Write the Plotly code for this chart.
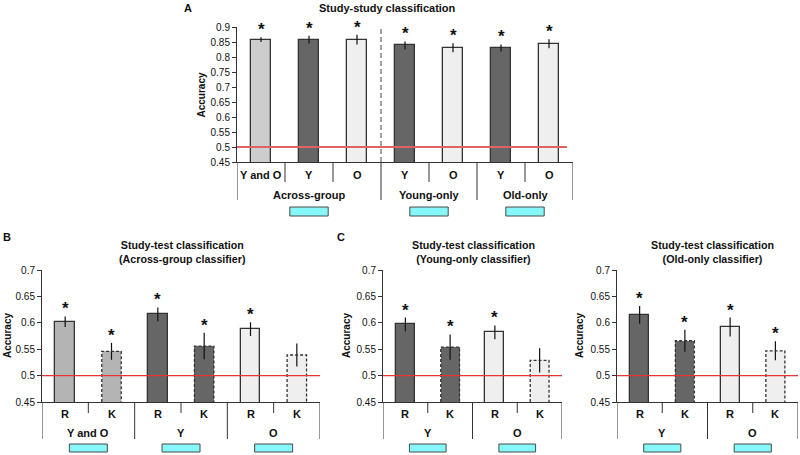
import plotly.graph_objects as go

W, H = 800, 455
FONT = "Arial, Liberation Sans, sans-serif"

# ---------------- data ----------------
A_labels = ["Y and O", "Y", "O", "Y", "O", "Y", "O"]
A_values = [0.858, 0.858, 0.858, 0.839, 0.831, 0.830, 0.844]
A_errors = [0.008, 0.013, 0.016, 0.013, 0.015, 0.012, 0.015]
A_sig = [True, True, True, True, True, True, True]
A_colors = ["#cdcdcd", "#666666", "#efefef", "#666666", "#efefef", "#666666", "#efefef"]
A_groups = [("Across-group", [0, 1, 2]), ("Young-only", [3, 4]), ("Old-only", [5, 6])]

B_labels = ["R", "K", "R", "K", "R", "K"]
B_values = [0.602, 0.546, 0.616, 0.556, 0.588, 0.539]
B_errors = [0.010, 0.016, 0.013, 0.025, 0.013, 0.022]
B_sig = [True, True, True, True, True, False]
B_colors = ["#b4b4b4", "#b4b4b4", "#666666", "#666666", "#efefef", "#efefef"]
B_groups = [("Y and O", [0, 1]), ("Y", [2, 3]), ("O", [4, 5])]

C1_labels = ["R", "K", "R", "K"]
C1_values = [0.597, 0.554, 0.582, 0.529]
C1_errors = [0.013, 0.024, 0.013, 0.023]
C1_sig = [True, True, True, False]
C1_colors = ["#666666", "#666666", "#efefef", "#efefef"]
C1_groups = [("Y", [0, 1]), ("O", [2, 3])]

C2_labels = ["R", "K", "R", "K"]
C2_values = [0.615, 0.566, 0.592, 0.547]
C2_errors = [0.017, 0.021, 0.018, 0.018]
C2_sig = [True, True, True, True]
C2_colors = ["#666666", "#666666", "#efefef", "#efefef"]
C2_groups = [("Y", [0, 1]), ("O", [2, 3])]

A_yticks = [0.45, 0.5, 0.55, 0.6, 0.65, 0.7, 0.75, 0.8, 0.85, 0.9]
A_yticktext = ["0.45", "0.5", "0.55", "0.6", "0.65", "0.7", "0.75", "0.8", "0.85", "0.9"]
BC_yticks = [0.45, 0.5, 0.55, 0.6, 0.65, 0.7]
BC_yticktext = ["0.45", "0.5", "0.55", "0.6", "0.65", "0.7"]
CHANCE = 0.5


def px(p):
    return p / W


def py(p):
    return 1 - p / H


fig = go.Figure()
shapes = []
annotations = []
LINE = "#333333"
BAR_W = 0.42


def ann(**kw):
    kw.setdefault("xanchor", "center")
    kw.setdefault("yanchor", "middle")
    kw.setdefault("showarrow", False)
    annotations.append(kw)


def panel(k, labels, values, errors, sig, colors, groups, yticks, yticktext,
          xpx, ypx, dashed_k, title, title_xy, ytitle_x, red_x1=1.0, red=("#e53535", 1.3),
          title_size=10.7, minor_bot=0, major_bot=0, label_y=0, group_y=0, box_y=(0, 0),
          box_half=0.4):
    xa = "x" if k == 1 else f"x{k}"
    ya = "y" if k == 1 else f"y{k}"
    n = len(labels)
    idx = list(range(n))
    lw = [0 if (dashed_k and lab == "K") else 1.3 for lab in labels]
    fig.add_trace(go.Bar(
        x=idx, y=values, width=BAR_W, xaxis=xa, yaxis=ya,
        marker=dict(color=colors, line=dict(color=LINE, width=lw)),
        error_y=dict(type="data", array=errors, color="#111", thickness=1.2, width=0),
        showlegend=False, hoverinfo="skip",
    ))
    # dashed outline for K bars
    if dashed_k:
        for i, lab in enumerate(labels):
            if lab == "K":
                fig.add_trace(go.Scatter(
                    x=[i - BAR_W / 2, i - BAR_W / 2, i + BAR_W / 2, i + BAR_W / 2],
                    y=[yticks[0], values[i], values[i], yticks[0]],
                    mode="lines", xaxis=xa, yaxis=ya,
                    line=dict(color=LINE, width=1.3, dash="3px,2px"),
                    showlegend=False, hoverinfo="skip",
                ))
    # asterisks
    for i in idx:
        if sig[i]:
            ann(x=i, y=values[i] + errors[i], xref=xa, yref=ya, text="<b>*</b>",
                yanchor="bottom", yshift=-4, font=dict(size=17, family=FONT, color="#111"))
    # chance line
    shapes.append(dict(type="line", xref=f"{xa} domain", yref=ya, x0=0, x1=red_x1,
                       y0=CHANCE, y1=CHANCE, line=dict(color=red[0], width=red[1])))
    # separators
    bounds = []
    for gname, members in groups:
        for j in members[:-1]:
            shapes.append(dict(type="line", xref=xa, yref="paper", x0=j + 0.5, x1=j + 0.5,
                               y0=py(ypx[1]), y1=py(minor_bot), line=dict(color=LINE, width=1)))
        bounds.append(members[0] - 0.5)
        cx = sum(members) / len(members)
        ann(x=cx, y=py(group_y), xref=xa, yref="paper", text=gname,
            font=dict(size=11, family=FONT, color="#111", weight="bold"))
        shapes.append(dict(type="rect", xref=xa, yref="paper", x0=cx - box_half, x1=cx + box_half,
                           y0=py(box_y[1]), y1=py(box_y[0]), fillcolor="#86f7f8",
                           line=dict(color="#4a4a4a", width=1)))
    bounds.append(n - 0.5)
    for b in bounds:
        shapes.append(dict(type="line", xref=xa, yref="paper", x0=b, x1=b,
                           y0=py(ypx[1]), y1=py(major_bot), line=dict(color=LINE, width=1)))
    # category labels
    for i in idx:
        ann(x=i, y=py(label_y), xref=xa, yref="paper", text=labels[i],
            font=dict(size=11, family=FONT, color="#111", weight="bold"))
    # titles
    ann(x=px(title_xy[0]), y=py(title_xy[1]), xref="paper", yref="paper", text=title, align="center",
        font=dict(size=title_size, family=FONT, color="#111", weight="bold"))
    ann(x=px(ytitle_x), y=py((ypx[0] + ypx[1]) / 2), xref="paper", yref="paper",
        text="Accuracy", textangle=-90,
        font=dict(size=10, family=FONT, color="#111", weight="bold"))
    xkey = "xaxis" if k == 1 else f"xaxis{k}"
    ykey = "yaxis" if k == 1 else f"yaxis{k}"
    fig.layout[xkey] = dict(domain=[px(xpx[0]), px(xpx[1])], range=[-0.5, n - 0.5], anchor=ya,
                            showticklabels=False, ticks="", showgrid=False, zeroline=False,
                            showline=True, linecolor=LINE, linewidth=1, fixedrange=True,
                            automargin=False)
    fig.layout[ykey] = dict(domain=[py(ypx[1]), py(ypx[0])], range=[yticks[0], yticks[-1]],
                            anchor=xa, tickvals=yticks, ticktext=yticktext, ticks="outside",
                            ticklen=4, tickcolor=LINE, showgrid=False, zeroline=False,
                            showline=True, linecolor=LINE, linewidth=1, fixedrange=True,
                            automargin=False,
                            tickfont=dict(size=10, family=FONT, color="#111"))


panel(1, A_labels, A_values, A_errors, A_sig, A_colors, A_groups, A_yticks, A_yticktext,
      (237, 573), (27, 162), False, "Study-study classification", (387, 8), 201,
      red_x1=0.982, red=("#e06262", 2), title_size=11,
      minor_bot=182, major_bot=200, label_y=175, group_y=195, box_y=(207, 216))
# dashed separator in panel A
shapes.append(dict(type="line", xref="x", yref="y", x0=2.5, x1=2.5, y0=A_yticks[0], y1=A_yticks[-1],
                   line=dict(color="#444", width=1, dash="5px,3px")))

panel(2, B_labels, B_values, B_errors, B_sig, B_colors, B_groups, BC_yticks, BC_yticktext,
      (42, 320), (270, 402), True, "Study-test classification<br>(Across-group classifier)", (182, 252), 7,
      minor_bot=413, major_bot=439, label_y=414, group_y=433, box_y=(444, 452), box_half=0.41)
panel(3, C1_labels, C1_values, C1_errors, C1_sig, C1_colors, C1_groups, BC_yticks, BC_yticktext,
      (383, 562), (270, 402), True, "Study-test classification<br>(Young-only classifier)", (473, 252), 346,
      minor_bot=413, major_bot=439, label_y=414, group_y=433, box_y=(444, 452), box_half=0.41)
panel(4, C2_labels, C2_values, C2_errors, C2_sig, C2_colors, C2_groups, BC_yticks, BC_yticktext,
      (617, 798), (270, 402), True, "Study-test classification<br>(Old-only classifier)", (712, 252), 579,
      minor_bot=413, major_bot=439, label_y=414, group_y=433, box_y=(444, 452), box_half=0.41)

for letter, (lx, ly) in {"A": (188, 8), "B": (7, 237), "C": (341, 237)}.items():
    ann(x=px(lx), y=py(ly), xref="paper", yref="paper", text=letter,
        font=dict(size=11, family=FONT, color="#111", weight="bold"))

fig.update_layout(
    width=W, height=H, margin=dict(l=0, r=0, t=0, b=0, pad=0, autoexpand=False),
    paper_bgcolor="white", plot_bgcolor="white",
    shapes=shapes, annotations=annotations, bargap=0,
)

fig.write_html("out.html", config={"displayModeBar": False},
               post_script="document.body.style.margin='0';document.body.style.padding='0';")
